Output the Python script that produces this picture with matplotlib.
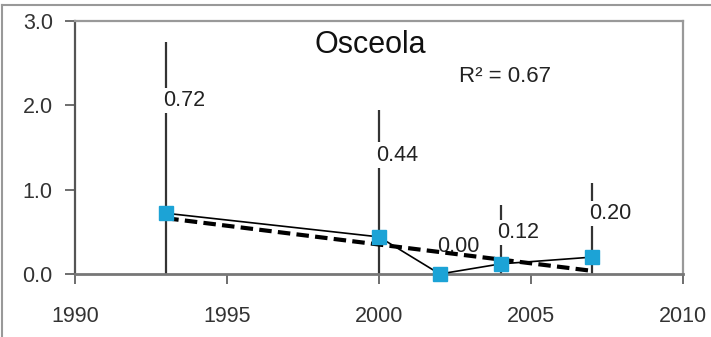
import numpy as np
import matplotlib.pyplot as plt
from matplotlib.lines import Line2D

plt.rcParams['font.family'] = ['Liberation Sans', 'DejaVu Sans']

# data
years = [1993, 2000, 2002, 2004, 2007]
values = [0.72, 0.44, 0.00, 0.12, 0.20]
ci_low = [0.0, 0.0, 0.0, 0.0, 0.0]
ci_high = [2.75, 1.95, 0.0, 0.82, 1.08]
labels = ['0.72', '0.44', '0.00', '0.12', '0.20']
x_ticks = [1990, 1995, 2000, 2005, 2010]
y_ticks = [0.0, 1.0, 2.0, 3.0]
title = 'Osceola'

# where the value labels sit (y in data units)
label_y = [2.06, 1.41, 0.33, 0.49, 0.72]

# linear trend
slope, icpt = np.polyfit(years, values, 1)
fit = np.polyval([slope, icpt], years)
r2 = 1 - np.sum((np.array(values) - fit) ** 2) / np.sum((np.array(values) - np.mean(values)) ** 2)

fig = plt.figure(figsize=(7.11, 3.37), dpi=100)
ax = fig.add_axes([75 / 711, 63 / 337, 608 / 711, 253 / 337])

ax.vlines(years, ci_low, ci_high, color='#333333', lw=1.6, zorder=1)
for x, ly, lab in zip(years, label_y, labels):
    ax.text(x - 0.1, ly, lab, fontsize=15.5, ha='left', va='center', color='#222222',
            bbox=dict(facecolor='white', edgecolor='none', pad=1.5), zorder=2)

ax.plot([years[0], years[-1]], [fit[0], fit[-1]], color='black', lw=3,
        dashes=(3, 1.5), zorder=3)
ax.plot(years, values, color='black', lw=1.2, zorder=4)
ax.plot(years, values, ls='none', marker='s', ms=10.5, color='#1ca3d6',
        mec='#1ca3d6', zorder=5, clip_on=False)

ax.text(0.485, 0.905, title, transform=ax.transAxes, fontsize=22,
        ha='center', va='center', color='#111111')
ax.text(0.707, 0.78, 'R² = %.2f' % r2, transform=ax.transAxes, fontsize=16,
        ha='center', va='center', color='#222222')

ax.set_xlim(1990, 2010)
ax.set_ylim(0, 3)
ax.set_xticks(x_ticks)
ax.set_yticks(y_ticks)
ax.set_yticklabels(['%.1f' % v for v in y_ticks])
ax.tick_params(axis='both', direction='out', length=7, width=1.2, color='#555555',
               labelsize=15.5, labelcolor='#333333')
ax.tick_params(axis='x', pad=16)
ax.tick_params(axis='y', pad=9)

ax.spines['left'].set_color('#555555')
ax.spines['left'].set_linewidth(1.6)
ax.spines['bottom'].set_color('#777777')
ax.spines['bottom'].set_linewidth(2)
for s in ['top', 'right']:
    ax.spines[s].set_color('#999999')
    ax.spines[s].set_linewidth(1.6)

# chart-area border, only top and left edges visible
fig.add_artist(Line2D([2 / 711, 1], [1 - 5 / 337, 1 - 5 / 337], color='#999999', lw=1.5))
fig.add_artist(Line2D([2 / 711, 2 / 711], [0, 1 - 5 / 337], color='#999999', lw=1.5))

fig.savefig('out.png', dpi=100)
